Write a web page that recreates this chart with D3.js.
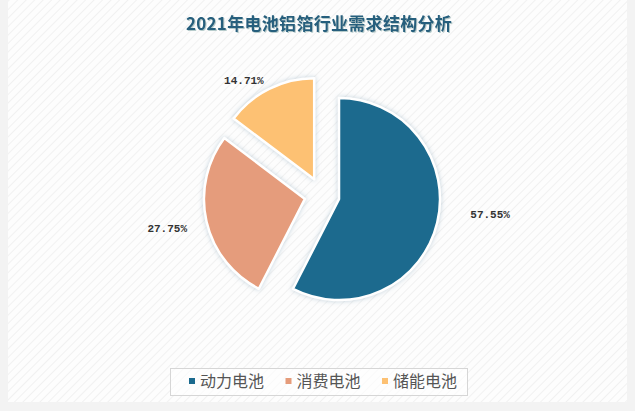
<!DOCTYPE html>
<html><head><meta charset="utf-8">
<script src="https://cdn.jsdelivr.net/npm/d3@7"></script>
<style>
html,body{margin:0;padding:0;background:#f3f3f3;}
svg{display:block;}
</style></head>
<body>
<svg id="chart" width="635" height="411"></svg>
<script>
const title = "2021年电池铝箔行业需求结构分析";
const categories = ["动力电池", "消费电池", "储能电池"];
const values = [57.55, 27.75, 14.71];
const colors = ["#1b6a8e", "#e59c7b", "#fdc173"];

const W = 635, H = 411;
const svg = d3.select("#chart");
const defs = svg.append("defs");

const pat = defs.append("pattern").attr("id", "bg").attr("patternUnits", "userSpaceOnUse")
  .attr("width", 6).attr("height", 6).attr("patternTransform", "rotate(45)");
pat.append("rect").attr("width", 6).attr("height", 6).attr("fill", "#fdfdfd");
pat.append("rect").attr("width", 1).attr("height", 6).attr("fill", "#f1f1f1");

const f = defs.append("filter").attr("id", "sh").attr("x", "-20%").attr("y", "-20%").attr("width", "140%").attr("height", "140%");
f.append("feDropShadow").attr("dx", 0).attr("dy", 0).attr("stdDeviation", 2.5).attr("flood-color", "#9bb4c4").attr("flood-opacity", 0.6);

const tf = defs.append("filter").attr("id", "tsh");
tf.append("feDropShadow").attr("dx", 1).attr("dy", 1).attr("stdDeviation", 0.6).attr("flood-color", "#8aa").attr("flood-opacity", 0.6);

svg.append("rect").attr("x", 0).attr("y", 0).attr("width", W).attr("height", H).attr("fill", "#f3f3f3");
svg.append("rect").attr("x", 8).attr("y", 0).attr("width", 619).attr("height", 402).attr("fill", "url(#bg)");

svg.append("text").attr("x", 319).attr("y", 30).attr("text-anchor", "middle")
  .attr("font-family", "'Noto Sans CJK SC', sans-serif").attr("font-weight", "bold")
  .attr("font-size", 17).attr("letter-spacing", 0.3).attr("fill", "#255f7d")
  .attr("filter", "url(#tsh)").text(title);

const cx = 322, cy = 195, r = 101, off = 17.5;
const pie = d3.pie().sort(null).value(d => d);
const arcs = pie(values);
const arc = d3.arc().innerRadius(0).outerRadius(r);

const g = svg.append("g").attr("transform", `translate(${cx},${cy})`);
const labelNudge = [-16, 2, 0];
const labelDist = [32, 20, 10];
const labelPad = [2, 0, 1];

arcs.forEach((a, i) => {
  const mid = (a.startAngle + a.endAngle) / 2;
  const dx = Math.sin(mid), dy = -Math.cos(mid);
  const gx = dx * off, gy = dy * off;
  g.append("path").attr("d", arc(a)).attr("transform", `translate(${gx},${gy})`)
    .attr("fill", colors[i]).attr("stroke", "#fff").attr("stroke-width", 2.5)
    .attr("stroke-linejoin", "round").attr("filter", "url(#sh)");
  const lr = r + labelDist[i];
  const lx = gx + dx * lr + (dx >= 0 ? labelPad[i] : -labelPad[i]);
  const ly = gy + dy * lr + labelNudge[i];
  g.append("text").attr("x", lx).attr("y", ly).attr("dy", "0.35em")
    .attr("text-anchor", dx >= 0 ? "start" : "end")
    .attr("font-family", "'Liberation Mono', monospace").attr("font-weight", "bold")
    .attr("font-size", 11).attr("fill", "#333")
    .text(values[i].toFixed(2) + "%");
});

// legend
const lg = svg.append("g");
lg.append("rect").attr("x", 170.5).attr("y", 368.5).attr("width", 297).attr("height", 27)
  .attr("fill", "#fff").attr("fill-opacity", 0.6).attr("stroke", "#d6d6d6").attr("stroke-width", 1);
const legendX = d3.scalePoint().domain(categories).range([189, 382]);
categories.forEach((c, i) => {
  const x = legendX(c);
  lg.append("rect").attr("x", x).attr("y", 378).attr("width", 6).attr("height", 6).attr("fill", colors[i]);
  lg.append("text").attr("x", x + 11).attr("y", 381).attr("dy", "0.36em")
    .attr("font-family", "'Noto Sans CJK SC', sans-serif").attr("font-size", 16)
    .attr("fill", "#555").text(c);
});
</script>
</body></html>
